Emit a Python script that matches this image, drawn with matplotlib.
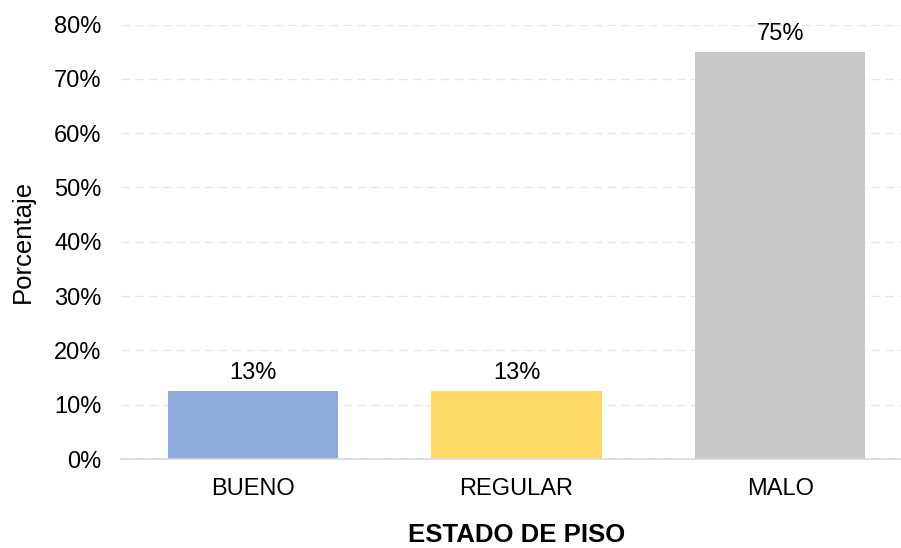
import matplotlib
matplotlib.use("Agg")
import matplotlib.pyplot as plt
from matplotlib.ticker import PercentFormatter

categories = ["BUENO", "REGULAR", "MALO"]
values = [12.5, 12.5, 75.0]
labels = ["13%", "13%", "75%"]
colors = ["#8FAADC", "#FFD966", "#C9C9C9"]

plt.rcParams['font.family'] = ['Liberation Sans', 'DejaVu Sans']

fig = plt.figure(figsize=(9.01, 5.48), dpi=100)
W, H = 901, 548
left, right, top, bottom = 121, 912, 24.5, 459
ax = fig.add_axes([left / W, 1 - bottom / H, (right - left) / W, (bottom - top) / H])

x = range(len(categories))
bars = ax.bar(x, values, width=0.645, color=colors, zorder=3)
for b, lab in zip(bars, labels):
    ax.text(b.get_x() + b.get_width() / 2, b.get_height() + 1.3, lab,
            ha='center', va='bottom', fontsize=17, color='#000000')

ax.set_xlim(-0.5, 2.5)
ax.set_ylim(0, 80)
ax.set_yticks(range(0, 81, 10))
ax.yaxis.set_major_formatter(PercentFormatter(decimals=0))
ax.set_xticks(list(x))
ax.set_xticklabels(categories)
ax.tick_params(axis='both', length=0, labelsize=17, colors='#000000')
ax.tick_params(axis='x', pad=14)
ax.tick_params(axis='y', pad=14)
ax.grid(axis='y', color='#E6E6E6', linestyle=(0, (6, 4)), linewidth=1, zorder=0)
for s in ['top', 'right', 'left']:
    ax.spines[s].set_visible(False)
ax.spines['bottom'].set_color('#D9D9D9')
ax.spines['bottom'].set_linewidth(1.2)
ax.spines['bottom'].set_zorder(4)

ax.set_xlabel("ESTADO DE PISO", fontsize=18.5, fontweight='bold', labelpad=16)
ax.set_ylabel("Porcentaje", fontsize=18.5, labelpad=14)

fig.savefig("out.png", dpi=100)
